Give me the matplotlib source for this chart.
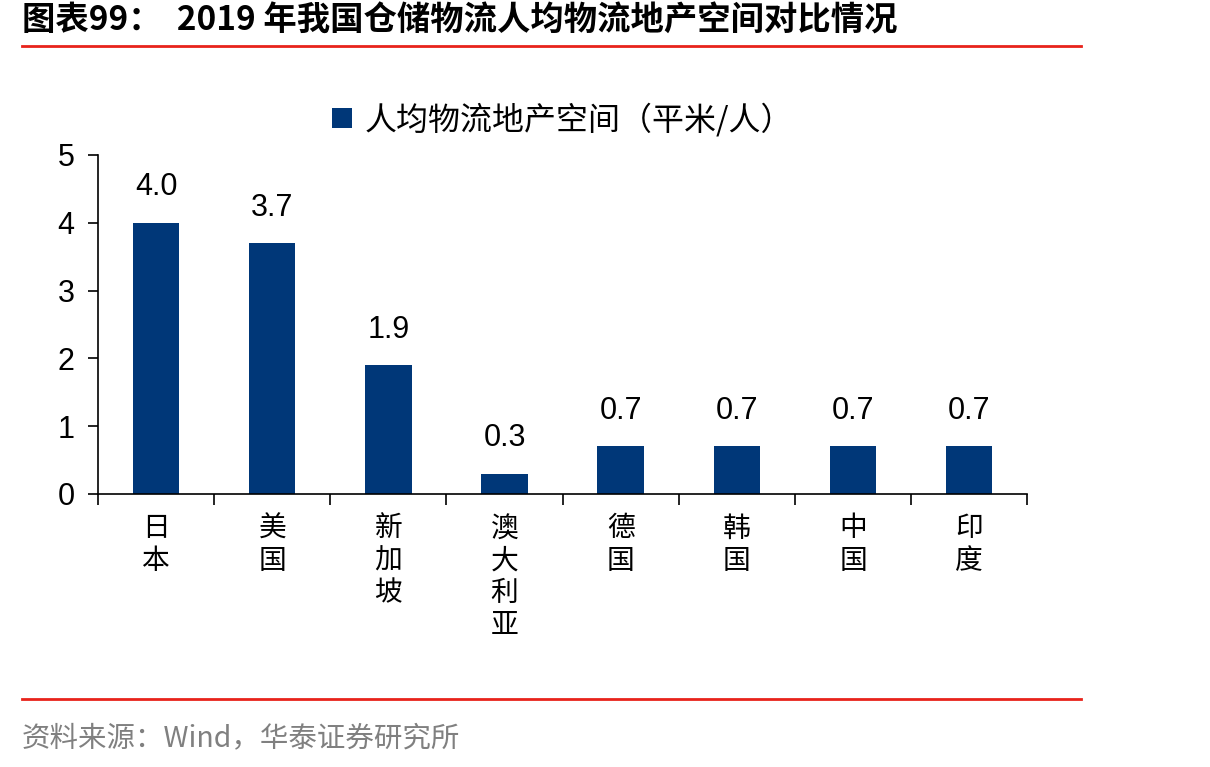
import matplotlib
matplotlib.use("Agg")
import matplotlib.pyplot as plt
import numpy as np

categories = ["日本", "美国", "新加坡", "澳大利亚", "德国", "韩国", "中国", "印度"]
values = [4.0, 3.7, 1.9, 0.3, 0.7, 0.7, 0.7, 0.7]
series_name = "人均物流地产空间（平米/人）"
title = "图表99：  2019 年我国仓储物流人均物流地产空间对比情况"
source = "资料来源：Wind，华泰证券研究所"
yticks = [0, 1, 2, 3, 4, 5]

CJK = ["Noto Sans CJK SC", "DejaVu Sans"]
NUM = ["Liberation Sans", "Noto Sans CJK SC"]
bar_color = "#003778"

fig = plt.figure(figsize=(12.1, 7.67), dpi=100)
ax = fig.add_axes([0.081, 0.356, 0.768, 0.442])

x = np.arange(len(categories))
bars = ax.bar(x, values, width=0.4, color=bar_color, label=series_name, zorder=2)
for xi, v in zip(x, values):
    ax.text(xi, v + 0.3, f"{v:.1f}", ha="center", va="bottom", fontsize=22,
            family=NUM, color="black")

ax.set_xlim(-0.5, len(categories) - 0.5)
ax.set_ylim(0, 5)
ax.set_yticks(yticks)
ax.set_yticklabels([str(t) for t in yticks], fontsize=22, family=NUM)
ax.set_xticks(x)
ax.set_xticklabels(["\n".join(c) for c in categories], fontsize=20, family=CJK,
                   linespacing=1.1, va="top")
ax.tick_params(axis="x", length=0, pad=14)
ax.set_xticks(np.arange(-0.5, len(categories), 1), minor=True)
ax.tick_params(axis="x", which="minor", length=8, direction="out", width=1.2)
ax.tick_params(axis="y", length=7, direction="out", width=1.2, pad=10)

for s in ["top", "right"]:
    ax.spines[s].set_visible(False)
for s in ["left", "bottom"]:
    ax.spines[s].set_linewidth(1.2)
    ax.spines[s].set_color("black")

leg = ax.legend(loc="center", bbox_to_anchor=(0.5, 1.105), frameon=False,
                prop={"family": CJK, "size": 23}, handlelength=0.6, handleheight=0.6,
                handletextpad=0.4)

fig.text(0.018, 0.972, title, fontsize=24, fontweight="bold", family=CJK,
         ha="left", va="center")
fig.add_artist(plt.Line2D([0.018, 0.893], [0.94, 0.94], color="#e8231b", lw=2,
                          transform=fig.transFigure))
fig.add_artist(plt.Line2D([0.018, 0.893], [0.089, 0.089], color="#e8231b", lw=2,
                          transform=fig.transFigure))
fig.text(0.018, 0.037, source, fontsize=20.5, family=CJK, color="#808080",
         ha="left", va="center")

fig.savefig("out.png", dpi=100)
